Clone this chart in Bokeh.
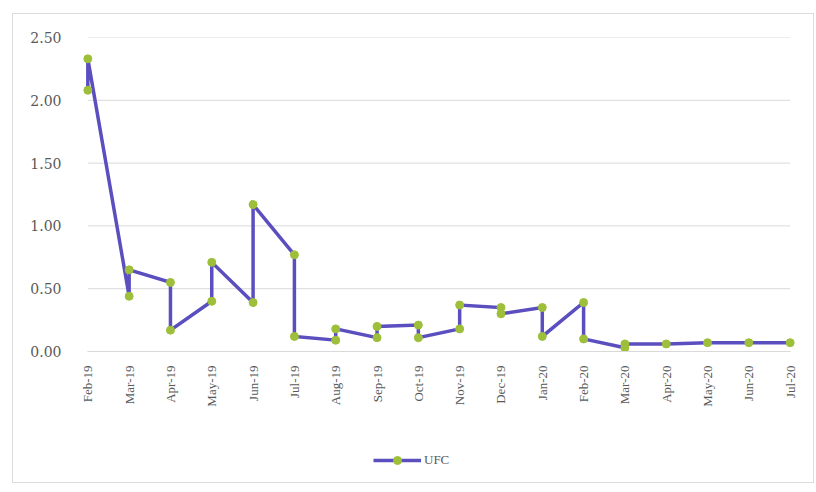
import math
from bokeh.plotting import figure
from bokeh.layouts import column
from bokeh.models import Range1d, FixedTicker, NumeralTickFormatter, Legend, LegendItem, ColumnDataSource
from bokeh.embed import file_html
from bokeh.resources import INLINE

# Month categories (tick labels)
months = ["Feb-19", "Mar-19", "Apr-19", "May-19", "Jun-19", "Jul-19", "Aug-19",
          "Sep-19", "Oct-19", "Nov-19", "Dec-19", "Jan-20", "Feb-20", "Mar-20",
          "Apr-20", "May-20", "Jun-20", "Jul-20"]

# Observations: month index of each reading (several readings per month)
obs_month = [0, 0, 1, 1, 2, 2, 3, 3, 4, 4, 5, 5, 6, 6, 7, 7, 8, 8, 9, 9,
             10, 10, 11, 11, 12, 12, 13, 13, 14, 15, 16, 17]
ufc = [2.08, 2.33, 0.44, 0.65, 0.55, 0.17, 0.40, 0.71, 0.39, 1.17, 0.77, 0.12,
       0.09, 0.18, 0.11, 0.20, 0.21, 0.11, 0.18, 0.37, 0.35, 0.30, 0.35, 0.12,
       0.39, 0.10, 0.03, 0.06, 0.06, 0.07, 0.07, 0.07]

y_ticks = [0.0, 0.5, 1.0, 1.5, 2.0, 2.5]
series_name = "UFC"

LINE = "#5b4fc0"
MARK = "#9dbf3a"
GRID = "#d9d9d9"
TXT = "#595959"

src = ColumnDataSource(dict(x=obs_month, y=ufc))

p = figure(width=800, height=430, output_backend="svg", toolbar_location=None,
           x_range=Range1d(-0.25, len(months) - 1 + 0.25), y_range=Range1d(0, 2.5),
           min_border_left=64, min_border_right=13, min_border_top=23, min_border_bottom=93)
p.outline_line_color = None
p.xgrid.visible = False
p.ygrid.visible = False

# horizontal gridlines spanning the month axis
last = len(months) - 1
p.segment(x0=[0] * len(y_ticks), x1=[last] * len(y_ticks), y0=y_ticks, y1=y_ticks,
          line_color=GRID, line_width=1)

ln = p.line("x", "y", source=src, line_color=LINE, line_width=3.5, line_join="miter")
sc = p.scatter("x", "y", source=src, size=8, fill_color=MARK, line_color=MARK)

# x axis
xa = p.xaxis[0]
xa.ticker = FixedTicker(ticks=list(range(len(months))))
xa.major_label_overrides = {i: m for i, m in enumerate(months)}
xa.major_label_orientation = math.pi / 2
xa.major_tick_line_color = None
xa.minor_tick_line_color = None
xa.axis_line_color = GRID
xa.bounds = (0, last)
xa.major_label_text_font = "Liberation Serif"
xa.major_label_text_font_size = "13px"
xa.major_label_text_color = TXT
xa.major_label_standoff = 8

# y axis
ya = p.yaxis[0]
ya.ticker = FixedTicker(ticks=y_ticks)
ya.formatter = NumeralTickFormatter(format="0.00")
ya.major_tick_line_color = None
ya.minor_tick_line_color = None
ya.axis_line_color = None
ya.major_label_text_font = "DejaVu Serif"
ya.major_label_text_font_size = "14px"
ya.major_label_text_color = TXT
ya.major_label_standoff = 10

# legend strip below the chart (its ranges keep the series itself out of view)
lf = figure(width=800, height=38, output_backend="svg", toolbar_location=None,
            x_range=Range1d(-100, -99), y_range=Range1d(-100, -99),
            x_axis_type=None, y_axis_type=None, min_border=0)
lf.outline_line_color = None
lf.xgrid.visible = False
lf.ygrid.visible = False
lln = lf.line("x", "y", source=src, line_color=LINE, line_width=3.5)
lsc = lf.scatter("x", "y", source=src, size=8, fill_color=MARK, line_color=MARK)

legend = Legend(items=[LegendItem(label=series_name, renderers=[lln, lsc])],
                location=(296, 12), orientation="horizontal",
                glyph_width=48, glyph_height=20, label_standoff=3,
                padding=0, margin=0, spacing=0,
                label_text_font="Liberation Serif", label_text_font_size="13px",
                label_text_color=TXT, border_line_color=None, background_fill_alpha=0)
lf.add_layout(legend, "center")

layout = column(p, lf, spacing=0,
                styles={"border": "1px solid #dcdcdc", "margin-left": "12px", "margin-top": "13px"})

open("out.html", "w").write(file_html(layout, INLINE))
